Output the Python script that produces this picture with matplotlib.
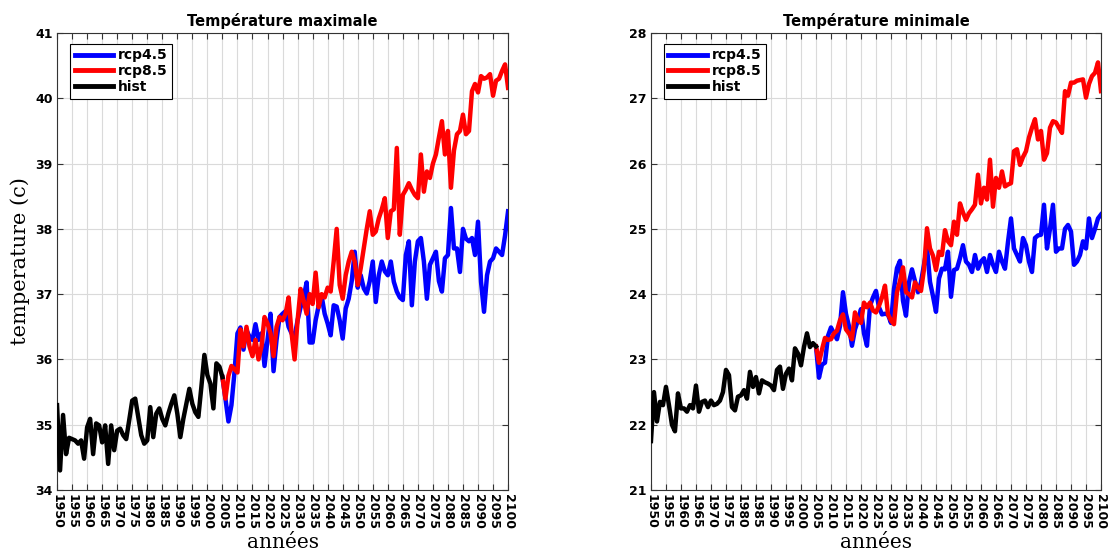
import numpy as np
import matplotlib
matplotlib.use("Agg")
import matplotlib.pyplot as plt

# Années
annees_hist = list(range(1950, 2006))
annees_rcp = list(range(2005, 2101))

# Température maximale (°C)
tmax_hist = [35.30, 34.30, 35.15, 34.55, 34.80, 34.78, 34.76, 34.71, 34.76, 34.48,
             34.96, 35.09, 34.55, 35.02, 34.99, 34.73, 34.99, 34.40, 34.99, 34.61,
             34.91, 34.94, 34.84, 34.78, 35.07, 35.37, 35.40, 35.12, 34.84, 34.71,
             34.76, 35.27, 34.81, 35.17, 35.25, 35.09, 34.99, 35.17, 35.32, 35.45,
             35.17, 34.81, 35.09, 35.32, 35.55, 35.32, 35.19, 35.12, 35.58, 36.07,
             35.76, 35.63, 35.25, 35.94, 35.89, 35.73]
tmax_rcp45 = [35.73, 35.40, 35.05, 35.30, 35.80, 36.40, 36.49, 36.15, 36.45, 36.35,
              36.30, 36.54, 36.30, 36.40, 35.90, 36.30, 36.70, 35.82, 36.30, 36.65,
              36.70, 36.74, 36.50, 36.40, 36.35, 36.60, 36.80, 36.95, 37.18, 36.26,
              36.26, 36.60, 36.82, 36.97, 36.70, 36.55, 36.37, 36.83, 36.81, 36.60,
              36.32, 36.78, 36.93, 37.20, 37.65, 37.10, 37.29, 37.09, 37.01, 37.20,
              37.50, 36.88, 37.29, 37.50, 37.35, 37.29, 37.50, 37.19, 37.04, 36.95,
              36.91, 37.60, 37.81, 36.83, 37.50, 37.81, 37.86, 37.50, 36.93, 37.45,
              37.55, 37.65, 37.20, 37.04, 37.55, 37.60, 38.32, 37.70, 37.70, 37.34,
              38.00, 37.85, 37.81, 37.86, 37.60, 38.11, 37.19, 36.73, 37.29, 37.50,
              37.55, 37.70, 37.65, 37.60, 37.90, 38.27]
tmax_rcp85 = [35.73, 35.40, 35.75, 35.90, 35.85, 35.80, 36.46, 36.20, 36.50, 36.20,
              36.05, 36.30, 36.00, 36.20, 36.65, 36.55, 36.40, 36.05, 36.50, 36.65,
              36.60, 36.70, 36.95, 36.40, 36.00, 36.60, 37.08, 36.90, 36.70, 37.00,
              36.85, 37.33, 36.80, 37.00, 36.95, 37.10, 37.04, 37.50, 38.00, 37.14,
              36.93, 37.29, 37.50, 37.65, 37.50, 37.14, 37.40, 37.70, 38.00, 38.27,
              37.91, 37.96, 38.16, 38.30, 38.47, 37.86, 38.27, 38.30, 39.24, 37.91,
              38.52, 38.60, 38.70, 38.60, 38.52, 38.47, 39.14, 38.57, 38.88, 38.78,
              39.00, 39.14, 39.40, 39.65, 39.14, 39.50, 38.63, 39.20, 39.45, 39.50,
              39.75, 39.45, 39.50, 40.11, 40.22, 40.09, 40.34, 40.30, 40.32, 40.37,
              40.04, 40.27, 40.30, 40.42, 40.52, 40.16]

# Température minimale (°C)
tmin_hist = [21.75, 22.50, 22.05, 22.35, 22.30, 22.58, 22.30, 22.00, 21.90, 22.48,
             22.25, 22.25, 22.20, 22.30, 22.25, 22.60, 22.20, 22.35, 22.37, 22.27,
             22.37, 22.30, 22.32, 22.37, 22.50, 22.84, 22.76, 22.27, 22.22, 22.43,
             22.45, 22.53, 22.40, 22.81, 22.58, 22.73, 22.48, 22.68, 22.65, 22.63,
             22.60, 22.53, 22.84, 22.89, 22.55, 22.78, 22.86, 22.68, 23.17, 23.09,
             22.91, 23.19, 23.40, 23.19, 23.25, 23.20]
tmin_rcp45 = [23.20, 22.72, 22.92, 22.95, 23.36, 23.49, 23.40, 23.31, 23.51, 24.03,
              23.70, 23.51, 23.21, 23.46, 23.60, 23.77, 23.40, 23.21, 23.82, 23.95,
              24.05, 23.80, 23.69, 23.70, 23.69, 23.56, 24.08, 24.40, 24.51, 23.90,
              23.67, 24.18, 24.38, 24.20, 24.03, 24.18, 24.45, 24.72, 24.19, 23.97,
              23.73, 24.24, 24.39, 24.38, 24.65, 23.96, 24.37, 24.39, 24.55, 24.75,
              24.50, 24.45, 24.34, 24.60, 24.39, 24.50, 24.55, 24.34, 24.60, 24.45,
              24.34, 24.65, 24.50, 24.39, 24.80, 25.16, 24.70, 24.60, 24.50, 24.86,
              24.75, 24.50, 24.34, 24.86, 24.90, 24.91, 25.37, 24.70, 25.00, 25.37,
              24.65, 24.70, 24.70, 25.00, 25.06, 24.96, 24.45, 24.50, 24.60, 24.81,
              24.70, 25.16, 24.86, 25.00, 25.16, 25.22]
tmin_rcp85 = [23.20, 22.95, 23.15, 23.33, 23.30, 23.31, 23.40, 23.44, 23.60, 23.69,
              23.46, 23.40, 23.31, 23.72, 23.60, 23.56, 23.87, 23.80, 23.87, 23.75,
              23.72, 23.82, 23.95, 24.13, 23.69, 23.60, 23.54, 24.03, 24.20, 24.41,
              24.03, 24.00, 23.95, 24.18, 24.10, 24.05, 24.38, 25.01, 24.70, 24.59,
              24.37, 24.65, 24.60, 24.98, 24.81, 24.75, 25.11, 24.91, 25.39, 25.25,
              25.14, 25.24, 25.30, 25.37, 25.83, 25.39, 25.63, 25.45, 26.06, 25.34,
              25.78, 25.63, 25.88, 25.65, 25.68, 25.70, 26.19, 26.22, 25.98, 26.10,
              26.19, 26.40, 26.55, 26.68, 26.37, 26.50, 26.06, 26.16, 26.55, 26.65,
              26.63, 26.55, 26.47, 27.11, 27.04, 27.24, 27.24, 27.27, 27.28, 27.29,
              27.01, 27.22, 27.34, 27.39, 27.55, 27.11]

annees_ticks = list(range(1950, 2101, 5))


def tracer(ax, hist, rcp45, rcp85, titre, ymin, ymax):
    ax.plot(annees_rcp, rcp45, color="#0000ff", lw=3.2, label="rcp4.5", zorder=3)
    ax.plot(annees_rcp, rcp85, color="#ff0000", lw=3.2, label="rcp8.5", zorder=4)
    ax.plot(annees_hist, hist, color="black", lw=3.2, label="hist", zorder=5)
    ax.set_xlim(1950, 2100)
    ax.set_ylim(ymin, ymax)
    ax.set_xticks(annees_ticks)
    ax.set_xticklabels([str(a) for a in annees_ticks], rotation=-90,
                       fontsize=9, fontweight="bold")
    ax.set_yticks(range(ymin, ymax + 1))
    for lab in ax.get_yticklabels():
        lab.set_fontsize(9)
        lab.set_fontweight("bold")
    ax.tick_params(direction="in", top=True, right=True, length=4,
                   width=0.8, color="#333333", pad=3)
    ax.grid(True, color="#dadada", lw=0.8)
    ax.set_axisbelow(True)
    for s in ax.spines.values():
        s.set_color("#333333")
        s.set_linewidth(0.8)
    ax.set_title(titre, fontsize=10.5, fontweight="bold", pad=5)
    ax.set_xlabel("années", family="DejaVu Serif", fontsize=14.5, labelpad=3)
    leg = ax.legend(loc="upper left", bbox_to_anchor=(0.028, 0.977),
                    borderaxespad=0, fontsize=10, handlelength=2.8,
                    handletextpad=0.3, borderpad=0.35, labelspacing=0.12,
                    fancybox=False, framealpha=1)
    leg.get_frame().set_edgecolor("black")
    leg.get_frame().set_linewidth(0.8)
    for t in leg.get_texts():
        t.set_fontweight("bold")
    for l in leg.get_lines():
        l.set_linewidth(3.5)


fig = plt.figure(figsize=(11.12, 5.59), dpi=100)
ax1 = fig.add_axes([0.0513, 0.1234, 0.4056, 0.8175])
ax2 = fig.add_axes([0.5854, 0.1234, 0.4047, 0.8175])

tracer(ax1, tmax_hist, tmax_rcp45, tmax_rcp85, "Température maximale", 34, 41)
tracer(ax2, tmin_hist, tmin_rcp45, tmin_rcp85, "Température minimale", 21, 28)
ax1.set_ylabel("temperature (c)", family="DejaVu Serif", fontsize=15, labelpad=4)

fig.savefig("out.png", dpi=100)
